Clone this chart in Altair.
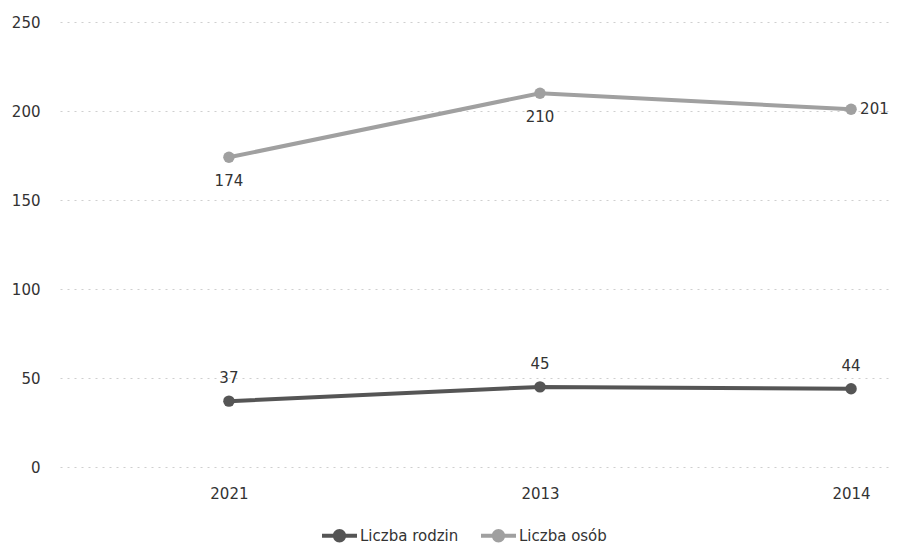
import altair as alt
import pandas as pd

FONT = "DejaVu Sans"

years = ["2021", "2013", "2014"]
series_names = ["Liczba rodzin", "Liczba osób"]
rodzin = [37, 45, 44]
osob = [174, 210, 201]
y_ticks = [0, 50, 100, 150, 200, 250]
colors = ["#555555", "#a0a0a0"]

rows = []
for yr, v in zip(years, rodzin):
    rows.append({"rok": yr, "seria": series_names[0], "wartosc": v})
for yr, v in zip(years, osob):
    rows.append({"rok": yr, "seria": series_names[1], "wartosc": v})
df = pd.DataFrame(rows)

x = alt.X(
    "rok:N",
    sort=years,
    scale=alt.Scale(domain=years, range=[0, 960], padding=0.543),
    axis=alt.Axis(title=None, labelAngle=0, domain=False, ticks=False, grid=False,
                  labelPadding=19, labelFontSize=15, labelColor="#333333", labelFont=FONT),
)
y = alt.Y(
    "wartosc:Q",
    scale=alt.Scale(domain=[0, 250], nice=False),
    axis=alt.Axis(title=None, values=y_ticks, domain=False, ticks=False, grid=True,
                  gridColor="#cfcfcf", gridDash=[2, 5], gridWidth=1,
                  labelPadding=20, labelFontSize=15, labelColor="#333333", labelFont=FONT),
)

legend_path = ("M-1,-0.11 L1,-0.11 L1,0.11 L-1,0.11 Z "
               "M0.38,0 A0.38,0.38 0 1,1 -0.38,0 A0.38,0.38 0 1,1 0.38,0 Z")

color = alt.Color(
    "seria:N",
    sort=series_names,
    scale=alt.Scale(domain=series_names, range=colors),
    legend=alt.Legend(title=None, orient="none", legendX=262, legendY=496,
                      direction="horizontal", symbolType=legend_path, symbolSize=1225,
                      symbolStrokeWidth=0, labelFontSize=15, labelFont=FONT,
                      labelColor="#333333", labelOffset=3, columnPadding=22),
)

base = alt.Chart(df)

lines = base.mark_line(strokeWidth=4).encode(x=x, y=y, color=color)
points = base.mark_point(filled=True, size=130, opacity=1, shape="circle").encode(
    x=x, y=y, color=color)

txt_kwargs = dict(fontSize=15, font=FONT, color="#333333", baseline="middle")
lab_rodzin = base.transform_filter(alt.datum.seria == series_names[0]).mark_text(
    dy=-23, align="center", **txt_kwargs).encode(x=x, y=y, text="wartosc:Q")
lab_osob = base.transform_filter(
    (alt.datum.seria == series_names[1]) & (alt.datum.rok != years[2])
).mark_text(dy=24, align="center", **txt_kwargs).encode(x=x, y=y, text="wartosc:Q")
lab_osob_last = base.transform_filter(
    (alt.datum.seria == series_names[1]) & (alt.datum.rok == years[2])
).mark_text(dx=9, align="left", **txt_kwargs).encode(x=x, y=y, text="wartosc:Q")

chart = alt.layer(lines, points, lab_rodzin, lab_osob, lab_osob_last).properties(
    width=829, height=445,
    autosize="none",
    background="white",
    padding={"left": 52, "top": 14, "right": 0, "bottom": 77},
).configure_view(stroke="transparent", strokeWidth=0)

chart.save("out.html", embed_options={"renderer": "svg", "actions": False})
